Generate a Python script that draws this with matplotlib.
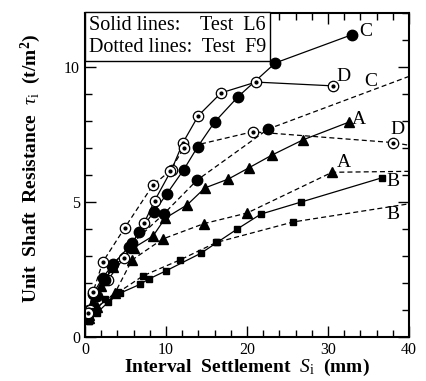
import matplotlib.pyplot as plt
from matplotlib.ticker import MultipleLocator

plt.rcParams["font.family"] = ["Liberation Serif", "DejaVu Serif"]
plt.rcParams["mathtext.fontset"] = "custom"
plt.rcParams["mathtext.rm"] = "Liberation Serif"
plt.rcParams["mathtext.it"] = "Liberation Serif:italic"
plt.rcParams["mathtext.bf"] = "Liberation Serif:bold"

# Test L6 (solid lines)
l6_a_x = [0.5, 1.0, 2.0, 3.5, 6.0, 8.4, 9.9, 12.6, 14.8, 17.7, 20.2, 23.1, 26.9, 32.6]
l6_a_y = [0.8, 1.3, 1.9, 2.6, 3.3, 3.74, 4.4, 4.89, 5.52, 5.85, 6.26, 6.74, 7.3, 7.96]
l6_b_x = [0.5, 1.5, 2.9, 4.3, 6.8, 7.9, 10.0, 14.3, 16.3, 18.8, 21.7, 26.7, 36.7]
l6_b_y = [0.6, 0.9, 1.3, 1.62, 1.95, 2.15, 2.45, 3.1, 3.5, 4.0, 4.55, 5.0, 5.9]
l6_c_x = [0.5, 1.0, 2.2, 3.3, 5.8, 6.7, 8.5, 10.1, 12.2, 13.9, 16.0, 18.9, 23.5, 33.0]
l6_c_y = [1.0, 1.6, 2.2, 2.63, 3.47, 3.9, 4.63, 5.3, 6.2, 7.04, 7.96, 8.9, 10.15, 11.2]
l6_d_x = [0.6, 1.5, 2.8, 4.8, 7.3, 8.6, 10.7, 12.1, 14.0, 16.8, 21.1, 30.6]
l6_d_y = [1.0, 1.5, 2.1, 2.93, 4.22, 5.05, 6.2, 7.2, 8.2, 9.04, 9.44, 9.3]

# Test F9 (dotted lines)
f9_a_x = [0.5, 1.5, 3.7, 5.8, 9.6, 14.7, 20.0, 30.5, 44.0]
f9_a_y = [0.7, 1.1, 1.63, 2.85, 3.63, 4.2, 4.59, 6.1, 6.15]
f9_b_x = [0.5, 1.2, 2.5, 4.1, 7.2, 11.7, 16.2, 25.7, 44.0]
f9_b_y = [0.6, 0.95, 1.4, 1.65, 2.27, 2.85, 3.5, 4.26, 5.12]
f9_c_x = [0.5, 1.3, 2.5, 3.5, 5.4, 9.7, 13.8, 22.6, 44.0]
f9_c_y = [0.9, 1.5, 2.1, 2.7, 3.35, 4.55, 5.8, 7.7, 10.1]
f9_d_x = [0.4, 1.0, 2.2, 4.9, 8.4, 10.5, 12.2, 20.7, 38.0, 44.0]
f9_d_y = [0.9, 1.67, 2.78, 4.04, 5.63, 6.15, 7.0, 7.6, 7.2, 6.9]

# curve labels
lab_text = ["C", "D", "C", "A", "D", "A", "B", "B"]
lab_x = [34.6, 31.9, 35.3, 33.8, 38.6, 32.0, 38.0, 38.0]
lab_y = [11.33, 9.63, 9.48, 8.04, 7.7, 6.48, 5.74, 4.52]

fig = plt.figure(figsize=(4.27, 3.81), dpi=100)
ax = fig.add_axes([0.199, 0.1155, 0.759, 0.8505])

dash = (0, (4, 2.5))
lw = 0.9


def series(x, y, ls, marker, ms, dotted=False):
    if dotted:
        ax.plot(x, y, color="black", linestyle=ls, linewidth=lw, marker="o",
                markersize=ms, markerfacecolor="white", markeredgecolor="black",
                markeredgewidth=0.9)
        ax.plot(x, y, linestyle="none", marker="o", markersize=2, color="black")
    else:
        ax.plot(x, y, color="black", linestyle=ls, linewidth=lw, marker=marker,
                markersize=ms)


series(l6_a_x, l6_a_y, "-", "^", 7)
series(l6_b_x, l6_b_y, "-", "s", 5)
series(l6_c_x, l6_c_y, "-", "o", 7.5)
series(l6_d_x, l6_d_y, "-", "o", 7.5, dotted=True)
series(f9_a_x, f9_a_y, dash, "^", 7)
series(f9_b_x, f9_b_y, dash, "s", 5)
series(f9_c_x, f9_c_y, dash, "o", 7.5)
series(f9_d_x, f9_d_y, dash, "o", 7.5, dotted=True)

for t, x, y in zip(lab_text, lab_x, lab_y):
    ax.text(x, y, t, fontsize=14, ha="center", va="center")

ax.set_xlim(0, 40)
ax.set_ylim(0, 12)
ax.xaxis.set_major_locator(MultipleLocator(10))
ax.xaxis.set_minor_locator(MultipleLocator(2))
ax.yaxis.set_major_locator(MultipleLocator(5))
ax.yaxis.set_minor_locator(MultipleLocator(1))
ax.tick_params(which="both", direction="in", top=True, right=True, labelsize=11.5)
ax.tick_params(which="major", length=8, width=1)
ax.tick_params(which="minor", length=5, width=1)
for s in ax.spines.values():
    s.set_linewidth(1.5)

ax.set_xlabel(r"Interval  Settlement  $S_{\rm i}$  (mm)", fontsize=14, fontweight="bold")
ax.set_ylabel(r"Unit  Shaft  Resistance  $\tau_{\rm i}$  (t/m$^{\bf 2}$)", fontsize=14,
              fontweight="bold")
ax.xaxis.set_label_coords(0.5, -0.06)
ax.yaxis.set_label_coords(-0.13, 0.52)

ax.text(0.012, 0.99, "Solid lines:    Test  L6\nDotted lines:  Test  F9", transform=ax.transAxes,
        fontsize=14.5, ha="left", va="top", linespacing=1.2,
        bbox=dict(boxstyle="square,pad=0.2", facecolor="white", edgecolor="black", linewidth=1))

fig.savefig("out.png", dpi=100)
